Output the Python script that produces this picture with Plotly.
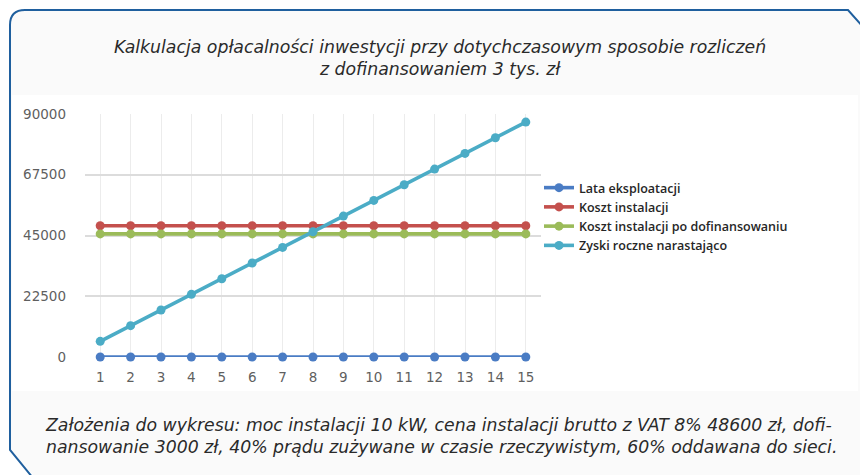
import plotly.graph_objects as go

years = list(range(1, 16))
lata = [1, 2, 3, 4, 5, 6, 7, 8, 9, 10, 11, 12, 13, 14, 15]
koszt = [48600] * 15
koszt_dof = [45600] * 15
zyski = [5800, 11600, 17400, 23200, 29000, 34800, 40600, 46400, 52200,
         58000, 63800, 69600, 75400, 81200, 87000]
y_ticks = [0, 22500, 45000, 67500, 90000]

series = [
    ("Lata eksploatacji", lata, "#4a7cc4"),
    ("Koszt instalacji", koszt, "#c4504d"),
    ("Koszt instalacji po dofinansowaniu", koszt_dof, "#9bbb59"),
    ("Zyski roczne narastająco", zyski, "#4bacc6"),
]

OFF = 8  # page body margin
W, H = 868 - OFF, 475 - OFF
# plot area in window pixel coords
L, R, T, B = 85, 541, 114, 357

fig = go.Figure()
for name, vals, col in series:
    fig.add_trace(go.Scatter(
        x=years, y=vals, name=name, mode="lines+markers",
        line=dict(color=col, width=3.6),
        marker=dict(color=col, size=9, symbol="circle"),
        cliponaxis=False,
    ))

def px(x):
    return (x - L) / (R - L)

def py(y):
    return (B - y) / (B - T)

def path_str(pts):
    s = ""
    for p in pts:
        if p[0] == "Z":
            s += " Z"
        elif p[0] == "Q":
            s += f" Q {px(p[1]):.5f},{py(p[2]):.5f} {px(p[3]):.5f},{py(p[4]):.5f}"
        else:
            s += f" {p[0]} {px(p[1]):.5f},{py(p[2]):.5f}"
    return s.strip()

fill_path = path_str([
    ("M", 10, 450), ("L", 10, 25), ("Q", 10, 10, 25, 10), ("L", 848, 10),
    ("L", 870, 34), ("L", 870, 478), ("L", 36, 478), ("Z",)
])
line_path = path_str([
    ("M", 33, 478), ("L", 10, 450), ("L", 10, 25), ("Q", 10, 10, 25, 10),
    ("L", 848, 10), ("L", 872, 37)
])

shapes = [
    dict(type="path", xref="paper", yref="paper", path=fill_path,
         fillcolor="#fafafa", line=dict(width=0), layer="below"),
    dict(type="rect", xref="paper", yref="paper",
         x0=px(12), x1=px(858), y0=py(391), y1=py(95),
         fillcolor="#ffffff", line=dict(width=0), layer="below"),
    dict(type="path", xref="paper", yref="paper", path=line_path,
         line=dict(color="#1f5f9e", width=2), fillcolor="rgba(0,0,0,0)",
         layer="above"),
]

title_font = dict(family="DejaVu Sans", size=17.3, color="#2a2a2a", style="italic")

texts = [
    ("Kalkulacja opłacalności inwestycji przy dotychczasowym sposobie rozliczeń<br>"
     "z dofinansowaniem 3 tys. zł", 440, 57.5, "center"),
    ("Założenia do wykresu: moc instalacji 10 kW, cena instalacji brutto z VAT 8% 48600 zł, dofi-<br>"
     "nansowanie 3000 zł, 40% prądu zużywane w czasie rzeczywistym, 60% oddawana do sieci.", 441, 436, "left"),
]
annotations = [
    dict(text=t, xref="paper", yref="paper", x=px(x), y=py(y), align=al,
         xanchor="center", yanchor="middle", showarrow=False, font=title_font)
    for t, x, y, al in texts
]

fig.update_layout(
    width=W, height=H,
    margin=dict(l=L - OFF, r=W - (R - OFF), t=T - OFF, b=H - (B - OFF), pad=0),
    paper_bgcolor="#ffffff", plot_bgcolor="rgba(0,0,0,0)",
    shapes=shapes, annotations=annotations,
    showlegend=True,
    legend=dict(x=px(539), y=py(173), xanchor="left", yanchor="top",
                font=dict(family="Open Sans", size=12.5, color="#262626", weight=600),
                bgcolor="rgba(0,0,0,0)", itemwidth=30, tracegroupgap=0),
    xaxis=dict(range=[0.5, 15.5], tickmode="array", tickvals=years,
               ticktext=[str(v) for v in years], showgrid=True,
               gridcolor="#ececec", gridwidth=1, zeroline=False, showline=False,
               ticks="", ticklabelstandoff=10,
               tickfont=dict(family="DejaVu Sans", size=13.5, color="#5f5f5f")),
    yaxis=dict(range=[0, 90000], tickmode="array", tickvals=y_ticks,
               ticktext=[str(v) for v in y_ticks], showgrid=True,
               gridcolor="#dcdcdc", gridwidth=2, zeroline=False, showline=False,
               ticks="", ticklabelstandoff=18,
               tickfont=dict(family="DejaVu Sans", size=13.5, color="#5f5f5f")),
)

fig.write_html("out.html")
